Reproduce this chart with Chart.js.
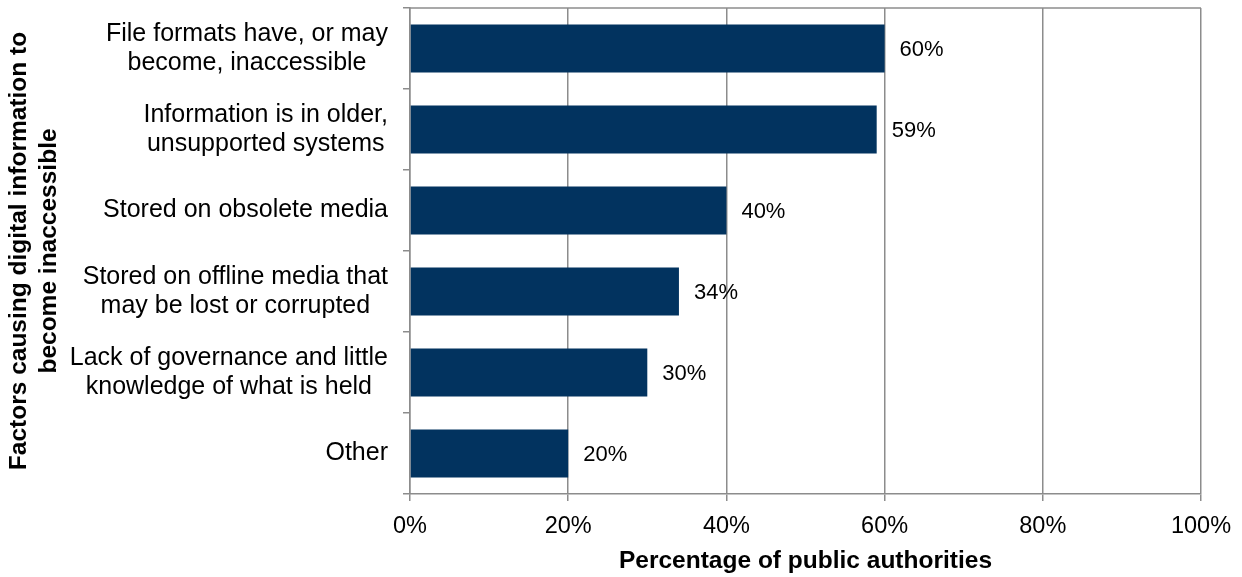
<!DOCTYPE html>
<html>
<head>
<meta charset="utf-8">
<script src="https://cdn.jsdelivr.net/npm/chart.js@4.4.0/dist/chart.umd.min.js"></script>
<style>
    body { margin: 0; background: #fff; }
    #wrap { width: 1242px; height: 577px; }
</style>
</head>
<body>
<div id="wrap"><canvas id="factorsChart" width="1242" height="577"></canvas></div>
<script>
// Factors and share of public authorities reporting them
var factors = [
    ['File formats have, or may', 'become, inaccessible'],
    ['Information is in older,', 'unsupported systems'],
    ['Stored on obsolete media'],
    ['Stored on offline media that', 'may be lost or corrupted'],
    ['Lack of governance and little', 'knowledge of what is held'],
    ['Other']
];
var percentages = [60, 59, 40, 34, 30, 20];
var xTicks = [0, 20, 40, 60, 80, 100];

var gridGrey = '#8c8c8c';
var fontFamily = "'Liberation Sans', Arial, sans-serif";

// value labels to the right of each bar
var valueLabels = {
    id: 'valueLabels',
    afterDatasetsDraw: function (chart) {
        var ctx = chart.ctx;
        var meta = chart.getDatasetMeta(0);
        ctx.save();
        ctx.font = '22px ' + fontFamily;
        ctx.fillStyle = '#000';
        ctx.textAlign = 'left';
        ctx.textBaseline = 'middle';
        meta.data.forEach(function (bar, i) {
            ctx.fillText(percentages[i] + '%', bar.x + 15, bar.y + 1.5);
        });
        ctx.restore();
    }
};

// category labels: each block right-aligned to the axis, its lines centred on each other
var categoryLabels = {
    id: 'categoryLabels',
    afterDraw: function (chart) {
        var ctx = chart.ctx;
        var y = chart.scales.y;
        var rightEdge = y.right - 7 - 15;
        var lineGap = 29;
        ctx.save();
        ctx.font = '25px ' + fontFamily;
        ctx.fillStyle = '#000';
        ctx.textAlign = 'center';
        ctx.textBaseline = 'middle';
        factors.forEach(function (lines, i) {
            var widest = 0;
            lines.forEach(function (l) { widest = Math.max(widest, ctx.measureText(l).width); });
            var cx = rightEdge - widest / 2;
            var cy = y.getPixelForTick(i);
            var startY = cy - (lines.length - 1) * lineGap / 2;
            lines.forEach(function (l, j) {
                ctx.fillText(l, cx, startY + j * lineGap);
            });
        });
        ctx.restore();
    }
};

// line along the top of the plot area
var topBorder = {
    id: 'topBorder',
    afterDraw: function (chart) {
        var a = chart.chartArea;
        var ctx = chart.ctx;
        ctx.save();
        ctx.strokeStyle = gridGrey;
        ctx.lineWidth = 1.5;
        ctx.beginPath();
        ctx.moveTo(a.left, a.top);
        ctx.lineTo(a.right, a.top);
        ctx.stroke();
        ctx.restore();
    }
};

new Chart(document.getElementById('factorsChart').getContext('2d'), {
    type: 'bar',
    data: {
        labels: factors,
        datasets: [{
            data: percentages,
            backgroundColor: '#02335f',
            borderWidth: 0,
            categoryPercentage: 1,
            barPercentage: 0.59
        }]
    },
    options: {
        indexAxis: 'y',
        responsive: false,
        animation: false,
        layout: { padding: { top: 8, right: 41, left: 0, bottom: 0 } },
        plugins: {
            legend: { display: false },
            tooltip: { enabled: false }
        },
        scales: {
            x: {
                min: 0,
                max: 100,
                afterBuildTicks: function (scale) {
                    scale.ticks = xTicks.map(function (v) { return { value: v }; });
                },
                afterFit: function (scale) {
                    scale.height = 83;
                    scale.paddingLeft = 0;
                    scale.paddingRight = 0;
                },
                grid: { color: gridGrey, lineWidth: 1.5, tickLength: 7, tickColor: gridGrey },
                border: { color: gridGrey, width: 1.5 },
                ticks: {
                    color: '#000',
                    padding: 11,
                    font: { family: fontFamily, size: 23.5 },
                    callback: function (v) { return v + '%'; }
                },
                title: {
                    display: true,
                    text: 'Percentage of public authorities',
                    color: '#000',
                    padding: { top: 0, bottom: 1 },
                    font: { family: fontFamily, size: 24.5, weight: 'bold', lineHeight: 1.2 }
                }
            },
            y: {
                afterFit: function (scale) {
                    scale.width = 410;
                    scale.paddingTop = 0;
                    scale.paddingBottom = 0;
                },
                grid: { offset: true, drawOnChartArea: false, color: gridGrey, lineWidth: 1.5, tickLength: 7 },
                border: { color: gridGrey, width: 1.5 },
                ticks: { display: false },
                title: {
                    display: true,
                    text: ['Factors causing digital information to', 'become inaccessible'],
                    color: '#000',
                    padding: { top: 5, bottom: 0 },
                    font: { family: fontFamily, size: 24.5, weight: 'bold', lineHeight: 1.2 }
                }
            }
        }
    },
    plugins: [valueLabels, categoryLabels, topBorder]
});
</script>
</body>
</html>
